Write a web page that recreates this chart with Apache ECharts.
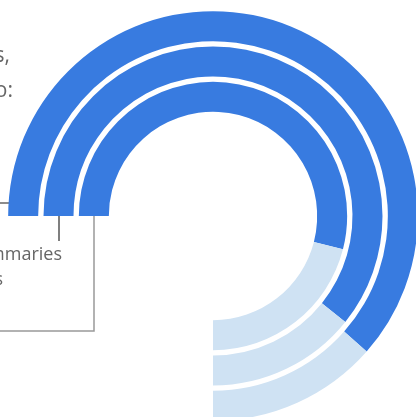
<!DOCTYPE html>
<html>
<head>
<meta charset="utf-8">
<script src="https://cdn.jsdelivr.net/npm/echarts@6/dist/echarts.min.js"></script>
<style>
  html, body { margin: 0; padding: 0; background: #fff; }
  #main { width: 416px; height: 417px; }
</style>
</head>
<body>
<div id="main"></div>
<script>
// rings from outer to inner
var categories = ['Outer', 'Middle', 'Inner'];
var percentValues = [82, 81, 72];
var remainValues = percentValues.map(function (v) { return 100 - v; });

var myChart = echarts.init(document.getElementById('main'));
var option = {
  backgroundColor: '#fff',
  animation: false,
  polar: {
    center: [213, 216],
    radius: [101.5, 207.5]
  },
  angleAxis: {
    type: 'value',
    min: 0,
    max: 100 * 360 / 270,   // 270 degree sweep = 100%
    startAngle: 180,
    clockwise: true,
    show: false
  },
  radiusAxis: {
    type: 'category',
    data: categories,
    inverse: true,
    show: false
  },
  series: [{
    name: 'value',
    type: 'bar',
    coordinateSystem: 'polar',
    stack: 'ring',
    barWidth: 30,
    itemStyle: { color: '#387be0' },
    data: percentValues
  }, {
    name: 'rest',
    type: 'bar',
    coordinateSystem: 'polar',
    stack: 'ring',
    barWidth: 30,
    itemStyle: { color: '#cfe2f3' },
    data: remainValues
  }],
  graphic: [
    // heading, cut off at the left edge
    { type: 'text', x: 10, y: 67, style: { text: 'Percent of respondents,', textAlign: 'right', textVerticalAlign: 'bottom', fill: '#666', font: '21px "Open Sans"' } },
    { type: 'text', x: 13, y: 102, style: { text: 'who use it to:', textAlign: 'right', textVerticalAlign: 'bottom', fill: '#666', font: '21px "Open Sans"' } },
    // middle ring label
    { type: 'text', x: 62, y: 264, style: { text: 'Meeting summaries', textAlign: 'right', textVerticalAlign: 'bottom', fill: '#666', font: '18px "Open Sans"' } },
    { type: 'text', x: 3, y: 289, style: { text: 'and action items', textAlign: 'right', textVerticalAlign: 'bottom', fill: '#666', font: '18px "Open Sans"' } },
    // leader lines
    { type: 'line', shape: { x1: 24, y1: 203, x2: -5, y2: 203 }, style: { stroke: '#666', lineWidth: 1.5 } },
    { type: 'line', shape: { x1: 59, y1: 203, x2: 59, y2: 241 }, style: { stroke: '#555', lineWidth: 1.5 } },
    { type: 'polyline', shape: { points: [[94, 203], [94, 331], [-5, 331]] }, style: { stroke: '#999', lineWidth: 1.5, fill: null } },
    { type: 'circle', shape: { cx: 24, cy: 203, r: 3.5 }, style: { fill: '#555' } },
    { type: 'circle', shape: { cx: 59, cy: 203, r: 3.5 }, style: { fill: '#555' } },
    { type: 'circle', shape: { cx: 94, cy: 203, r: 3.5 }, style: { fill: '#555' } }
  ]
};
myChart.setOption(option);
</script>
</body>
</html>
